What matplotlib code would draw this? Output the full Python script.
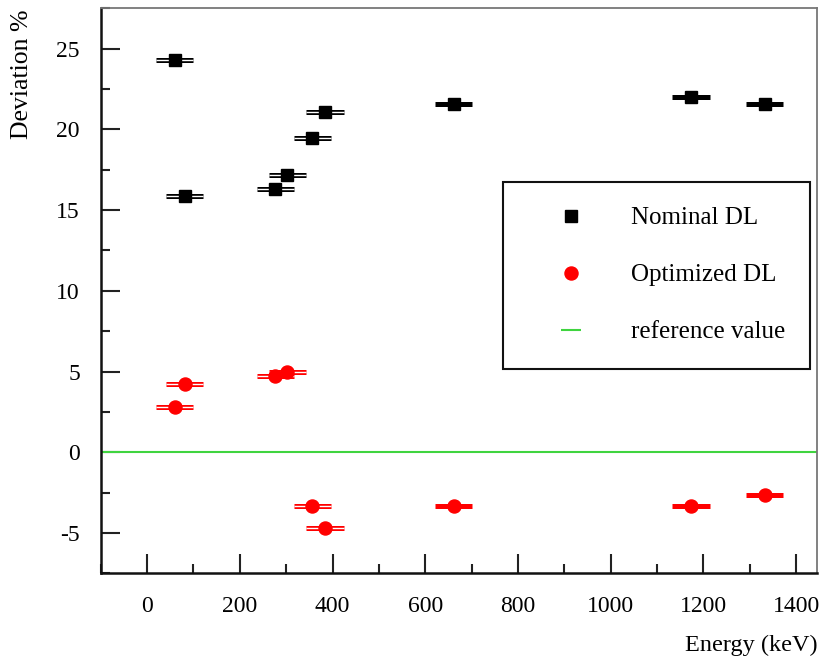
import matplotlib
matplotlib.use("Agg")
import matplotlib.pyplot as plt
from matplotlib.lines import Line2D
from matplotlib.ticker import MultipleLocator

# gamma line energies (keV) and deviations (%)
energy = [59.5, 81.0, 276.4, 302.9, 356.0, 383.8, 661.7, 1173.2, 1332.5]
energy_err = [40, 40, 40, 40, 40, 40, 40, 40, 40]
nominal_dev = [24.3, 15.85, 16.3, 17.2, 19.45, 21.1, 21.6, 22.0, 21.55]
optimized_dev = [2.8, 4.25, 4.7, 5.0, -3.35, -4.7, -3.35, -3.35, -2.65]
reference_value = 0.0

series_labels = ["Nominal DL", "Optimized DL", "reference value"]
x_label = "Energy (keV)"
y_label = "Deviation %"

plt.rcParams["font.family"] = ["Liberation Serif", "DejaVu Serif"]
plt.rcParams["axes.unicode_minus"] = False

fig = plt.figure(figsize=(8.24, 6.57), dpi=100)
ax = fig.add_axes([0.1222, 0.1274, 0.8693, 0.8600])

GREEN = "#3fd43f"


def draw_series(ax, x, xerr, y, color, marker, ms):
    """Horizontal error bars: split (double line) for low energies."""
    n_split = 6
    ax.errorbar(x, y, xerr=xerr, fmt="none", ecolor=color,
                elinewidth=3.6, capsize=0, zorder=3)
    ax.errorbar(x[:n_split], y[:n_split], xerr=xerr[:n_split], fmt="none",
                ecolor="white", elinewidth=1.0, capsize=0, zorder=4)
    ax.plot(x, y, ls="none", marker=marker, color=color, ms=ms,
            mec=color, zorder=5)


ax.axhline(reference_value, color=GREEN, lw=1.5, zorder=2)
draw_series(ax, energy, energy_err, nominal_dev, "black", "s", 8.8)
draw_series(ax, energy, energy_err, optimized_dev, "#ff0000", "o", 9.4)

ax.set_xlim(-100, 1445)
ax.set_ylim(-7.5, 27.5)

ax.xaxis.set_major_locator(MultipleLocator(200))
ax.xaxis.set_minor_locator(MultipleLocator(100))
ax.yaxis.set_major_locator(MultipleLocator(5))
ax.yaxis.set_minor_locator(MultipleLocator(2.5))

ax.tick_params(which="both", direction="in", top=False, right=False,
               width=1.5, color="#222222")
ax.tick_params(which="major", length=13.5)
ax.tick_params(which="minor", length=6.8)
ax.tick_params(axis="x", which="major", pad=16.5, labelsize=17)
ax.tick_params(axis="y", which="major", pad=15, labelsize=17)

for side in ["left", "bottom"]:
    ax.spines[side].set_linewidth(1.8)
    ax.spines[side].set_color("#111111")
for side in ["top", "right"]:
    ax.spines[side].set_linewidth(1.3)
    ax.spines[side].set_color("#777777")

ax.set_xlabel(x_label, fontsize=17.5, loc="right")
ax.xaxis.set_label_coords(1.0014, -0.109)
ax.set_ylabel(y_label, fontsize=18.5, loc="top")
ax.yaxis.set_label_coords(-0.0945, 0.997)

handles = [
    Line2D([], [], ls="none", marker="s", color="black", ms=8.8),
    Line2D([], [], ls="none", marker="o", color="#ff0000", ms=9.4),
    Line2D([], [], ls="none", marker="_", color=GREEN, ms=14, mew=1.5),
]
leg = ax.legend(handles, series_labels, loc="upper left",
                bbox_to_anchor=(502.7 / 824, (657 - 182) / 657),
                bbox_transform=fig.transFigure, borderaxespad=0,
                fontsize=18, frameon=True, fancybox=False, framealpha=1,
                edgecolor="#111111", borderpad=1.0, handlelength=3.46,
                handletextpad=0.66, labelspacing=1.38)
leg.get_frame().set_linewidth(1.5)

fig.savefig("out.png", dpi=100)
